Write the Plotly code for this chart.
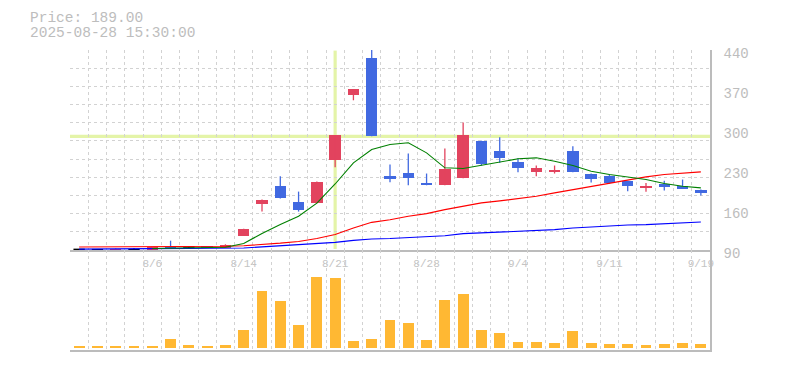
import plotly.graph_objects as go

dates = ["7/31", "8/1", "8/4", "8/5", "8/6", "8/7", "8/8", "8/12", "8/13", "8/14",
         "8/15", "8/18", "8/19", "8/20", "8/21", "8/22", "8/25", "8/26", "8/27", "8/28",
         "8/29", "9/1", "9/2", "9/3", "9/4", "9/5", "9/8", "9/9", "9/10", "9/11",
         "9/12", "9/16", "9/17", "9/18", "9/19"]
opens = [91, 90.5, 89.5, 90.5, 90.5, 95.8, 95.3, 95.8, 93.5, 115,
         170, 202.7, 174.7, 171.7, 247.1, 361, 426.7, 219, 225.5, 207.5,
         203.3, 215.6, 280.4, 264, 244.8, 226, 226, 262.4, 223.8, 220.3,
         211, 198, 205, 202.7, 195.7]
highs = [91.5, 91, 92.5, 93.5, 94.6, 106.3, 96.6, 95.8, 100, 127.3,
         178.2, 219, 192.2, 209.8, 290.4, 371, 445, 239.6, 259, 223.8,
         267.6, 313.2, 281.3, 287.5, 250.6, 237.8, 237.8, 271.7, 223.8, 222,
         211, 207.3, 211, 213.3, 195.7]
lows = [90, 90, 89.5, 90, 90.5, 92.3, 93, 93.5, 93.5, 115,
        157.2, 180, 157.2, 171.7, 234.8, 352, 289.2, 208.5, 203.3, 203.3,
        203.3, 215.6, 237.8, 242.5, 226, 219, 223.8, 226, 208, 206.3,
        192.8, 192, 194, 197.5, 185.2]
closes = [91, 90.5, 92.3, 90.5, 94.6, 92.3, 95.3, 93.5, 98, 127.3,
          178.2, 180.5, 159.4, 209.8, 290.4, 371, 289.2, 215.5, 215.6, 203.3,
          232, 291.6, 241.3, 250.9, 234.3, 234.3, 230.8, 227.3, 215, 207.5,
          201.5, 202.7, 199.8, 197.5, 189]
ma_short = [None, None, None, None, 92.5, 93, 93.5, 93.5, 94.7, 101.3,
            119, 134.8, 149, 172, 205.5, 242.5, 265.9, 274.6, 277.6, 260,
            233.8, 232.5, 238.5, 243.6, 249.6, 251.3, 245.4, 237.8, 227.8, 222,
            217.3, 213.3, 206.3, 201.5, 198.7]
ma_mid = [95.3, 95.3, 95.3, 95.3, 95.3, 95.5, 95.6, 95.8, 96.5, 97.5,
          99.5, 102, 105, 110, 117, 128.6, 138.4, 143, 149, 153.7,
          160.7, 166.5, 172.4, 176, 179.4, 184, 190, 195.7, 201.5, 207.5,
          213.3, 218, 222, 225, 226.8]
ma_long = [91.5, 91.5, 91.8, 92, 92.2, 92.5, 92.8, 93, 93.3, 93.5,
           95.5, 97.5, 99.3, 100.5, 103.3, 106.8, 109.3, 110, 112, 113.9,
           115, 118.6, 119.8, 121.3, 122.6, 124.4, 125.6, 128.6, 130.3, 132.6,
           133.8, 134.4, 136, 137.3, 139]
volumes = [600, 600, 600, 600, 600, 2700, 900, 600, 900, 5400,
           17100, 14100, 6900, 21300, 21000, 2100, 2700, 8400, 7500, 2400,
           14400, 16200, 5400, 4500, 1800, 1800, 1500, 5100, 1500, 1200,
           1200, 900, 1200, 1500, 1200]
price_ticks = [90, 160, 230, 300, 370, 440]
label_idx = [4, 9, 14, 19, 24, 29, 34]
cross_idx = 14
cross_price = 289
info_lines = ["Price: 189.00", "2025-08-28 15:30:00"]

UP = "#e2435e"
DOWN = "#4169e1"
DOJI = "#000000"
GRID = "#d2d2d2"
AXIS = "#bcbcbc"
TXT = "#bdbdbd"
FONT = "Liberation Mono"

n = len(dates)
xs = list(range(n))
colors = []
for o, c in zip(opens, closes):
    colors.append(UP if c > o else (DOWN if c < o else DOJI))

fig = go.Figure()

# wicks
for col in (UP, DOWN, DOJI):
    wx, wy = [], []
    for i in xs:
        if colors[i] == col:
            wx += [i, i, None]
            wy += [lows[i], highs[i], None]
    fig.add_trace(go.Scatter(x=wx, y=wy, mode="lines", line=dict(color=col, width=1.3),
                             hoverinfo="skip", showlegend=False, xaxis="x", yaxis="y"))

# bodies
body_x = [i for i in xs if colors[i] != DOJI]
fig.add_trace(go.Bar(
    x=body_x,
    base=[min(opens[i], closes[i]) for i in body_x],
    y=[abs(closes[i] - opens[i]) for i in body_x],
    width=0.62,
    marker=dict(color=[colors[i] for i in body_x], line=dict(width=0)),
    showlegend=False, xaxis="x", yaxis="y"))

# doji bars
dx, dy = [], []
for i in xs:
    if colors[i] == DOJI:
        dx += [i - 0.31, i + 0.31, None]
        dy += [opens[i], closes[i], None]
fig.add_trace(go.Scatter(x=dx, y=dy, mode="lines", line=dict(color=DOJI, width=1.6),
                         showlegend=False, xaxis="x", yaxis="y"))

# moving averages
for vals, col in ((ma_long, "#0000ff"), (ma_mid, "#ff0000"), (ma_short, "#008000")):
    fig.add_trace(go.Scatter(x=xs, y=vals, mode="lines", line=dict(color=col, width=1.1),
                             showlegend=False, xaxis="x", yaxis="y"))

# volume
fig.add_trace(go.Bar(x=xs, y=volumes, width=0.6, marker=dict(color="#ffb833", line=dict(width=0)),
                     showlegend=False, xaxis="x2", yaxis="y2"))

boundaries = [i - 0.5 for i in range(n + 1)]
grid_step = (price_ticks[-1] - price_ticks[0]) / 11
hgrid = [price_ticks[0] + k * grid_step for k in range(12)]

xcommon = dict(range=[-0.5, n - 0.5], showgrid=False, zeroline=False, automargin=False,
               showline=True, linecolor=AXIS, linewidth=1.5, ticks="",
               minor=dict(tickvals=boundaries, showgrid=True, gridcolor=GRID,
                          griddash="3px,3px", gridwidth=1, ticks=""))

fig.update_layout(
    width=785, height=370,
    margin=dict(l=70, r=75, t=50, b=20, autoexpand=False),
    paper_bgcolor="white", plot_bgcolor="white",
    bargap=0, barmode="overlay",
    xaxis=dict(**xcommon, domain=[0, 1], anchor="y",
               tickmode="array", tickvals=label_idx, ticktext=[dates[i] for i in label_idx],
               showticklabels=True, tickfont=dict(family=FONT, size=11, color="#c4c4c4"),
               ticklabelstandoff=2),
    xaxis2=dict(**xcommon, domain=[0, 1], anchor="y2", matches="x", showticklabels=False),
    yaxis=dict(domain=[1 / 3, 1], range=[price_ticks[0], price_ticks[-1]], side="right",
               tickmode="array", tickvals=price_ticks, automargin=False,
               tickfont=dict(family=FONT, size=14, color=TXT),
               showgrid=False, zeroline=False, showline=True, linecolor=AXIS, linewidth=1.5,
               ticks="", ticklabelstandoff=9, ticklabelshift=3,
               minor=dict(tickvals=hgrid, showgrid=True, gridcolor=GRID,
                          griddash="3px,3px", gridwidth=1, ticks="")),
    yaxis2=dict(domain=[0, 1 / 3], range=[-600, 29400], side="right", automargin=False,
                showticklabels=False, showgrid=False, zeroline=False,
                showline=True, linecolor=AXIS, linewidth=1.5, ticks=""),
    shapes=[
        dict(type="line", xref="x", yref="y domain", x0=cross_idx, x1=cross_idx, y0=0.005, y1=0.997,
             line=dict(color="#e4f4a8", width=3.2), layer="below"),
        dict(type="line", xref="x domain", yref="y", x0=0, x1=1, y0=cross_price, y1=cross_price,
             line=dict(color="#e4f4a8", width=3.2), layer="below"),
    ],
    annotations=[
        dict(text=info_lines[0], xref="paper", yref="paper", x=-0.066, y=1.1067,
             xanchor="left", yanchor="middle", showarrow=False,
             font=dict(family=FONT, size=14.5, color=TXT)),
        dict(text=info_lines[1], xref="paper", yref="paper", x=-0.066, y=1.0567,
             xanchor="left", yanchor="middle", showarrow=False,
             font=dict(family=FONT, size=14.5, color=TXT)),
    ],
)

fig.write_html("out.html")
